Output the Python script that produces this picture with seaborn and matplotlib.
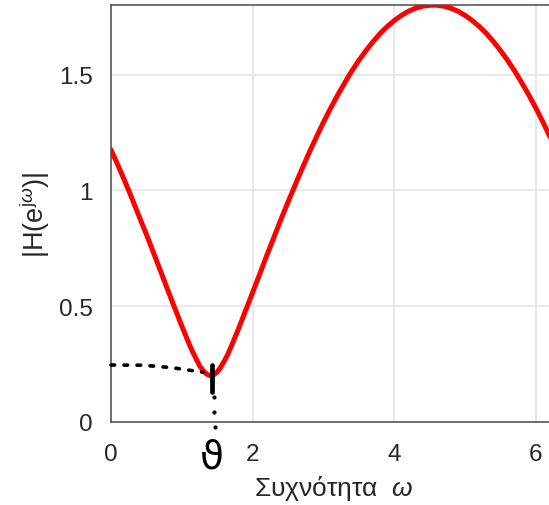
import numpy as np
import pandas as pd
import matplotlib
matplotlib.use("Agg")
import matplotlib.pyplot as plt
import seaborn as sns

# Frequency samples (rad/sample) and magnitude
omega = [0.0, 0.1, 0.2, 0.3, 0.4, 0.5, 0.6, 0.7, 0.8, 0.9, 1.0, 1.1, 1.15, 1.2,
         1.25, 1.3, 1.35, 1.4, 1.45, 1.5, 1.55, 1.6, 1.65, 1.7, 1.8, 1.9,
         2.0, 2.1, 2.2, 2.3, 2.4, 2.5, 2.6, 2.7, 2.8, 2.9, 3.0, 3.1, 3.2, 3.3,
         3.4, 3.5, 3.6, 3.7, 3.8, 3.9, 4.0, 4.1, 4.2, 4.3, 4.4, 4.5, 4.6, 4.7,
         4.8, 4.9, 5.0, 5.1, 5.2, 5.3, 5.4, 5.5, 5.6, 5.7, 5.8, 5.9, 6.0, 6.1,
         6.2, 6.283]
magnitude = [1.175, 1.107, 1.036, 0.962, 0.885, 0.810, 0.731, 0.651, 0.571, 0.492,
             0.414, 0.339, 0.305, 0.274, 0.243, 0.222, 0.207, 0.200, 0.203, 0.216,
             0.237, 0.263, 0.293, 0.328, 0.402, 0.481,
             0.559, 0.639, 0.719, 0.797, 0.875, 0.950, 1.023, 1.095, 1.164, 1.230,
             1.294, 1.354, 1.411, 1.464, 1.515, 1.561, 1.603, 1.642, 1.677, 1.707,
             1.733, 1.755, 1.773, 1.786, 1.795, 1.799, 1.799, 1.795, 1.786, 1.773,
             1.755, 1.733, 1.707, 1.677, 1.642, 1.603, 1.561, 1.515, 1.464, 1.411,
             1.354, 1.294, 1.230, 1.175]

# Hand-drawn annotation (dotted guide to the minimum)
guide_x = [0.0, 0.45, 0.85, 1.3]
guide_y = [0.246, 0.245, 0.235, 0.215]
stroke_x = [1.42, 1.42]
stroke_y = [0.245, 0.13]
drop_x = [1.45, 1.46, 1.47]
drop_y = [0.11, 0.045, -0.02]
theta_label = "ϑ"

xticks = [0, 2, 4, 6]
yticks = [0, 0.5, 1, 1.5]
xlabel = r"Συχνότητα  $\omega$"
ylabel = r"|H(e$^{\mathrm{j}\omega}$)|"

sns.set_theme(style="whitegrid")
plt.rcParams['font.family'] = ['Liberation Sans', 'DejaVu Sans']
plt.rcParams['mathtext.fontset'] = 'custom'
plt.rcParams['mathtext.rm'] = 'Liberation Sans'
plt.rcParams['mathtext.it'] = 'Liberation Sans:italic'

fig = plt.figure(figsize=(5.49, 5.06), dpi=100)
ax = fig.add_axes([111/549, 83/506, 445/549, 417/506])

df = pd.DataFrame({"omega": omega, "mag": magnitude})
sns.lineplot(data=df, x="omega", y="mag", ax=ax, color="#ff0000", linewidth=3.6,
             sort=False, zorder=3)

ax.set_xlim(0, 2 * np.pi)
ax.set_ylim(0, 1.8)
ax.set_xticks(xticks)
ax.set_xticklabels([str(t) for t in xticks])
ax.set_yticks(yticks)
ax.set_yticklabels(["0", "0.5", "1", "1.5"])

ax.grid(True, color="#e3e3e3", linewidth=1.1)
for s in ax.spines.values():
    s.set_color("#4a4a4a")
    s.set_linewidth(1.1)
ax.tick_params(direction="in", length=5, width=1.1, color="#4a4a4a",
               labelsize=17.5, labelcolor="#262626", pad=13)
ax.tick_params(axis="x", pad=15)

ax.set_xlabel(xlabel, fontsize=19, color="#262626", labelpad=6)
ax.set_ylabel(ylabel, fontsize=19.5, color="#262626", labelpad=5)

# annotation
ax.plot(guide_x, guide_y, color="black", linewidth=2.6, linestyle=(0, (1.0, 2.6)),
        dash_capstyle="round", zorder=4, clip_on=False)
ax.plot(stroke_x, stroke_y, color="black", linewidth=3.4, solid_capstyle="round",
        zorder=5)
ax.plot(drop_x, drop_y, linestyle="none", marker="o", markersize=2, color="black",
        zorder=5, clip_on=False)
ax.text(1.43, -0.15, theta_label, fontsize=28, ha="center", va="center",
        family=["DejaVu Sans"], color="black", clip_on=False)

fig.savefig("out.png", dpi=100)
